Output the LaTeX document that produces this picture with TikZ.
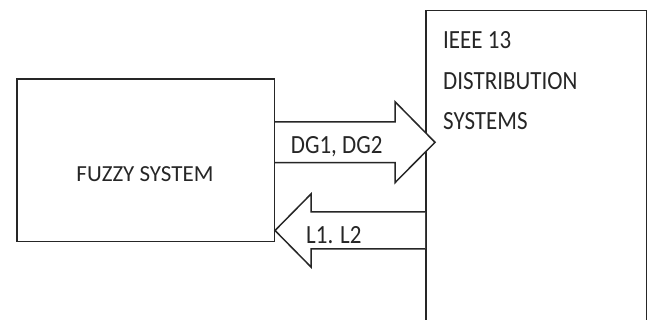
\documentclass[tikz,border=0pt]{standalone}
\usepackage{fontspec}
\setmainfont{Carlito}
\usetikzlibrary{positioning}
\tikzset{
  blockbox/.style={draw=black!85, line width=1.5pt, inner sep=0pt},
  lbl/.style={font=\fontsize{23}{28}\selectfont, text=black!85, inner sep=0pt, anchor=base west},
  lbltall/.style={lbl, yscale=1.14},
  fatarrow/.style={draw=black!85, line width=1.5pt, fill=white, line join=miter}
}
\begin{document}
\begin{tikzpicture}[x=1pt, y=-1pt]
  \useasboundingbox (0,0) rectangle (649,320);
  % blocks
  \node[blockbox, minimum width=257.5pt, minimum height=162.5pt, anchor=north west] (fuzzy) at (16,78.3) {};
  \node[blockbox, minimum width=220.7pt, minimum height=322pt, anchor=north west] (ieee) at (425,9.7) {};
  \node[lbl, anchor=base] (fuzzylbl) at (145,181.7) {FUZZY SYSTEM};
  \node[lbltall] (ieeeA) at (443,48.3) {IEEE 13};
  \node[lbltall] (ieeeB) at (443,89.3) {DISTRIBUTION};
  \node[lbltall] (ieeeC) at (443,129.3) {SYSTEMS};
  % DG arrow, fuzzy -> ieee
  \coordinate (dgtip) at (435,142.3);
  \draw[fatarrow] (fuzzy.east |- 0,122) -- (395,122) -- (395,101.7) -- (dgtip)
    -- (395,182.7) -- (395,162.7) -- (fuzzy.east |- 0,162.7);
  \node[lbltall] (dglbl) at (290.7,153.3) {DG1, DG2};
  % L arrow, ieee -> fuzzy
  \coordinate (ltip) at (fuzzy.east |- 0,230.5);
  \draw[fatarrow] (ieee.west |- 0,212) -- (311,212) -- (311,194) -- (ltip)
    -- (311,267) -- (311,249) -- (ieee.west |- 0,249);
  \node[lbltall] (llbl) at (306,244) {L1. L2};
\end{tikzpicture}
\end{document}
